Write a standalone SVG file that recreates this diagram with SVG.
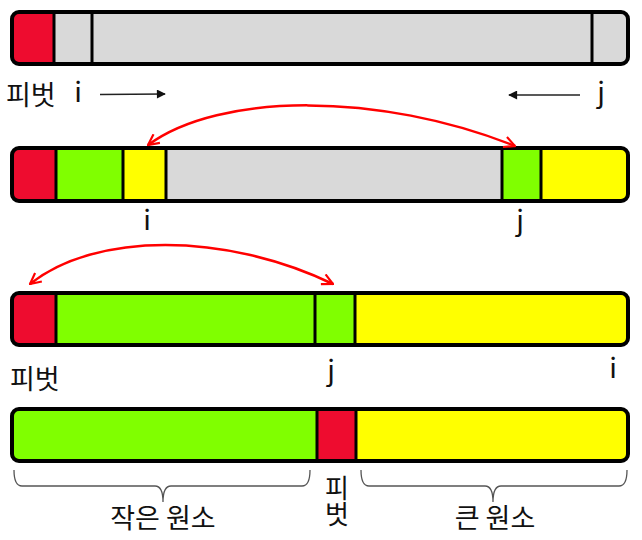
<svg xmlns="http://www.w3.org/2000/svg" width="642" height="540" viewBox="0 0 642 540">
<style>
.out{fill:none;stroke:#000;stroke-width:4;}
.div{stroke:#000;stroke-width:3;}
.red{fill:#ee0c2f;}
.grn{fill:#80ff00;}
.yel{fill:#ffff00;}
.gry{fill:#d9d9d9;}
.t{font-family:"Noto Sans CJK KR","Noto Sans",sans-serif;font-size:27px;fill:#111;}
.l{font-family:"Noto Sans CJK KR","Noto Sans",sans-serif;font-size:28px;fill:#111;text-anchor:middle;}
.arc{fill:none;stroke:#ff0000;stroke-width:2.5;}
.bk{fill:none;stroke:#222;stroke-width:1.5;}
.br{fill:none;stroke:#555;stroke-width:1.3;}
</style>
<defs>
<marker id="ra" viewBox="0 0 12 12" refX="11" refY="6" markerWidth="13" markerHeight="13" markerUnits="userSpaceOnUse" orient="auto-start-reverse">
<path d="M1,1 L11,6 L1,11" fill="none" stroke="#ff0000" stroke-width="2"/>
</marker>
<marker id="ba" viewBox="0 0 10 10" refX="9" refY="5" markerWidth="10" markerHeight="9" markerUnits="userSpaceOnUse" orient="auto">
<path d="M0,0 L10,5 L0,10 Z" fill="#111"/>
</marker>
<clipPath id="c1"><rect x="12" y="12" width="616" height="52" rx="7"/></clipPath>
<clipPath id="c2"><rect x="12" y="148" width="616" height="53" rx="7"/></clipPath>
<clipPath id="c3"><rect x="12" y="293" width="616" height="52" rx="7"/></clipPath>
<clipPath id="c4"><rect x="12" y="409" width="616" height="52" rx="7"/></clipPath>
</defs>

<g id="bar1">
<g clip-path="url(#c1)">
<rect class="gry" x="12" y="12" width="616" height="52"/>
<rect class="red" x="12" y="12" width="42" height="52"/>
</g>
<line class="div" x1="54" y1="12" x2="54" y2="64"/>
<line class="div" x1="92" y1="12" x2="92" y2="64"/>
<line class="div" x1="592" y1="12" x2="592" y2="64"/>
<rect class="out" x="12" y="12" width="616" height="52" rx="7"/>
</g>

<g id="bar2">
<g clip-path="url(#c2)">
<rect class="gry" x="12" y="148" width="616" height="53"/>
<rect class="red" x="12" y="148" width="44" height="53"/>
<rect class="grn" x="56" y="148" width="67" height="53"/>
<rect class="yel" x="123" y="148" width="43" height="53"/>
<rect class="grn" x="502" y="148" width="39" height="53"/>
<rect class="yel" x="541" y="148" width="87" height="53"/>
</g>
<line class="div" x1="56" y1="148" x2="56" y2="201"/>
<line class="div" x1="123" y1="148" x2="123" y2="201"/>
<line class="div" x1="166" y1="148" x2="166" y2="201"/>
<line class="div" x1="502" y1="148" x2="502" y2="201"/>
<line class="div" x1="541" y1="148" x2="541" y2="201"/>
<rect class="out" x="12" y="148" width="616" height="53" rx="7"/>
</g>

<g id="bar3">
<g clip-path="url(#c3)">
<rect class="red" x="12" y="293" width="44" height="52"/>
<rect class="grn" x="56" y="293" width="299" height="52"/>
<rect class="yel" x="355" y="293" width="273" height="52"/>
</g>
<line class="div" x1="56" y1="293" x2="56" y2="345"/>
<line class="div" x1="315" y1="293" x2="315" y2="345"/>
<line class="div" x1="355" y1="293" x2="355" y2="345"/>
<rect class="out" x="12" y="293" width="616" height="52" rx="7"/>
</g>

<g id="bar4">
<g clip-path="url(#c4)">
<rect class="grn" x="12" y="409" width="305" height="52"/>
<rect class="red" x="317" y="409" width="39" height="52"/>
<rect class="yel" x="356" y="409" width="272" height="52"/>
</g>
<line class="div" x1="317" y1="409" x2="317" y2="461"/>
<line class="div" x1="356" y1="409" x2="356" y2="461"/>
<rect class="out" x="12" y="409" width="616" height="52" rx="7"/>
</g>

<g id="connectors">
<path class="bk" d="M100,94.5 L165,94" marker-end="url(#ba)"/>
<path class="bk" d="M580,95 L509,95" marker-end="url(#ba)"/>
<path class="arc" d="M148,145 C220,92 380,92 515,146" marker-start="url(#ra)" marker-end="url(#ra)"/>
<path class="arc" d="M30,284 C95,232 225,232 333,284" marker-start="url(#ra)" marker-end="url(#ra)"/>
<path class="br" d="M14,470 Q14,486 22,486 L155,486 Q163,486 163,502 Q163,486 171,486 L302,486 Q310,486 310,470"/>
<path class="br" d="M361,470 Q361,486 369,486 L485,486 Q493,486 493,502 Q493,486 501,486 L619,486 Q627,486 627,470"/>
</g>

<g id="labels">
<text class="t" x="6" y="105">피벗</text>
<text class="l" x="78" y="102">i</text>
<text class="l" x="601" y="102">j</text>
<text class="l" x="147" y="230">i</text>
<text class="l" x="520" y="230">j</text>
<text class="t" x="10" y="389">피벗</text>
<text class="l" x="331" y="380">j</text>
<text class="l" x="613" y="378">i</text>
<text class="t" x="163" y="528" text-anchor="middle">작은 원소</text>
<text class="t" x="337" y="475" style="writing-mode:vertical-rl;font-size:26px">피벗</text>
<text class="t" x="495" y="528" text-anchor="middle">큰 원소</text>
</g>
</svg>
